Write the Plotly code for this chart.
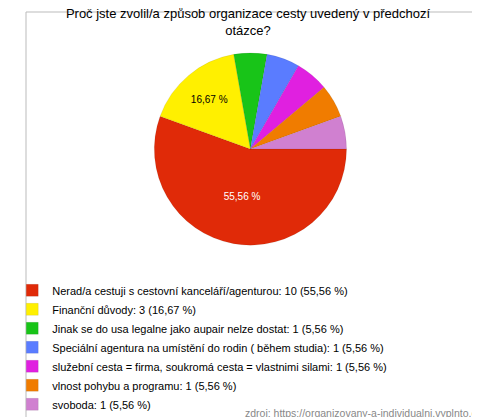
import plotly.graph_objects as go

labels = [
    "Nerad/a cestuji s cestovní kanceláří/agenturou: 10 (55,56 %)",
    "Finanční důvody: 3 (16,67 %)",
    "Jinak se do usa legalne jako aupair nelze dostat: 1 (5,56 %)",
    "Speciální agentura na umístění do rodin ( během studia): 1 (5,56 %)",
    "služební cesta = firma, soukromá cesta = vlastnimi silami: 1 (5,56 %)",
    "vlnost pohybu a programu: 1 (5,56 %)",
    "svoboda: 1 (5,56 %)",
]
values = [10, 3, 1, 1, 1, 1, 1]
inner_text = ["55,56 %", "16,67 %", "", "", "", "", ""]
colors = ["#e02a08", "#fff000", "#18c418", "#5a7cff", "#e020e0", "#f07c00", "#d080d0"]

fig = go.Figure(go.Pie(
    labels=labels, values=values, text=inner_text, textinfo="text",
    sort=False, direction="clockwise", rotation=90,
    marker=dict(colors=colors, line=dict(color="rgba(0,0,0,0.15)", width=0.5)),
    textfont=dict(size=10, color=["white", "black"] + ["black"] * 5),
    textposition="inside", insidetextorientation="horizontal",
    hoverinfo="label",
    domain=dict(x=[0.15, 0.83], y=[0.43, 0.9]),
))

fig.update_layout(
    width=480, height=417,
    margin=dict(l=4, r=4, t=4, b=4),
    paper_bgcolor="white",
    font=dict(family="Liberation Sans, Arial", size=12, color="black"),
    title=dict(text="Proč jste zvolil/a způsob organizace cesty uvedený v předchozí<br>otázce?",
               x=0.5, xanchor="center", y=0.975, yanchor="top", font=dict(size=13)),
    showlegend=True,
    legend=dict(x=-0.03, xanchor="left", y=0.355, yanchor="top", font=dict(size=11),
                itemwidth=30, tracegroupgap=0, bgcolor="rgba(0,0,0,0)"),
    annotations=[dict(text="zdroj: https://organizovany-a-individualni.vyplnto.cz",
                      x=1.0, y=0.0, xref="paper", yref="paper", xanchor="right", yanchor="bottom",
                      showarrow=False, font=dict(size=10.5, color="#888888"))],
    shapes=[dict(type="rect", xref="paper", yref="paper", x0=0, y0=0, x1=1, y1=1,
                 line=dict(color="#bbbbbb", width=1))],
)

fig.write_html("out.html")
